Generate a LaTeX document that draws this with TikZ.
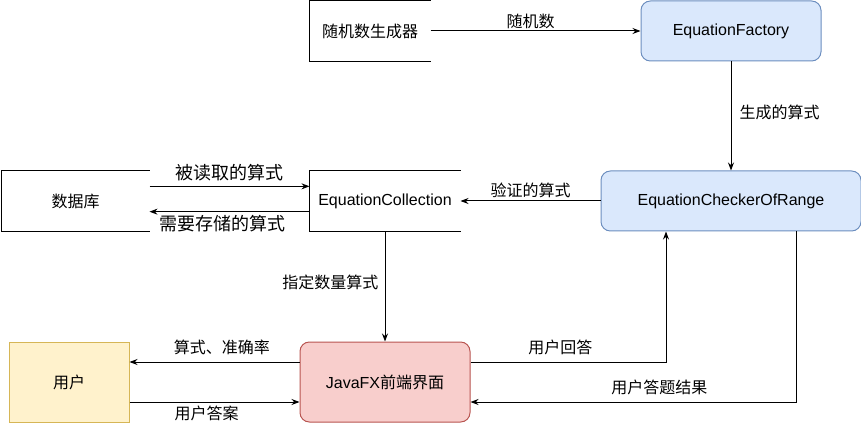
\documentclass[tikz,border=0pt]{standalone}
\usepackage{fontspec}
\setmainfont{Liberation Sans}
\newfontfamily\cjk{Noto Sans CJK SC}
\usetikzlibrary{arrows.meta, positioning}
\definecolor{classfill}{HTML}{DAE8FC}
\definecolor{classline}{HTML}{6C8EBF}
\definecolor{uifill}{HTML}{F8CECC}
\definecolor{uiline}{HTML}{B85450}
\definecolor{userfill}{HTML}{FFF2CC}
\definecolor{userline}{HTML}{D6B656}

\begin{document}
\begin{tikzpicture}[
  x=0.75pt, y=-0.75pt, line width=0.75pt, >={Stealth[length=6pt, width=4.5pt]},
  font=\fontsize{12}{14}\selectfont,
  openbox/.style={
    minimum width=112.5pt, minimum height=45pt, inner sep=0pt, align=center
  },
  classbox/.style={
    draw=classline, fill=classfill, rounded corners=7pt,
    minimum height=45pt, inner sep=0pt, align=center
  },
  uibox/.style={
    draw=uiline, fill=uifill, rounded corners=7pt,
    minimum width=127.5pt, minimum height=60pt, inner sep=0pt, align=center
  },
  userbox/.style={
    draw=userline, fill=userfill,
    minimum width=90pt, minimum height=60pt, inner sep=0pt, align=center
  },
  lbl/.style={font=\cjk\fontsize{12}{14}\selectfont, inner sep=0pt},
  biglbl/.style={lbl, font=\cjk\fontsize{13.5}{16}\selectfont},
  myarrow/.style={->, black},
]
\useasboundingbox (0,0) rectangle (861,431);
% --- Top row: generator and factory ---
\node[openbox, minimum width=90pt] (rng) at (370,31) {\cjk 随机数生成器};
\node[classbox, minimum width=135pt, right=157.5pt of rng] (factory) {EquationFactory};
% --- Middle row: checker, collection, database ---
\node[classbox, minimum width=195pt, below=81.75pt of factory] (checker) {EquationCheckerOfRange};
\node[openbox, left=105pt of checker] (coll) {EquationCollection};
\node[openbox, minimum width=110.25pt, left=120pt of coll] (db) {\cjk 数据库};
% --- Bottom row: front end and user ---
\node[uibox, below=82.5pt of coll] (fx) {JavaFX{\cjk 前端界面}};
\node[userbox, left=127.5pt of fx] (user) {\cjk 用户};
% open boxes: no right side
\foreach \n in {rng, coll, db}
  \draw (\n.north east) -- (\n.north west) -- (\n.south west) -- (\n.south east);
% --- Connectors ---
\draw[myarrow] (rng) -- node[lbl, xshift=-3.75pt, yshift=7pt] {随机数} (factory);
\draw[myarrow] (factory) -- node[lbl, xshift=36.5pt, yshift=2.5pt] {生成的算式} (checker);
\draw[myarrow] (checker) -- node[lbl, yshift=8pt] {验证的算式} (coll);
\draw[myarrow] ([yshift=11pt]db.east) -- node[biglbl, yshift=10pt] {被读取的算式} ([yshift=11pt]coll.west);
\draw[myarrow] ([yshift=-8pt]coll.west) -- node[biglbl, xshift=-5pt, yshift=-9pt] {需要存储的算式} ([yshift=-8pt]db.east);
\draw[myarrow] (coll) -- node[lbl, xshift=-41pt, yshift=3pt] {指定数量算式} (fx);
\draw[myarrow] ([yshift=15pt]fx.west) -- node[lbl, xshift=5.6pt, yshift=11pt] {算式、准确率} ([yshift=15pt]user.east);
\draw[myarrow] ([yshift=-15pt]user.east) -- node[lbl, xshift=-6pt, yshift=-8.8pt] {用户答案} ([yshift=-15pt]fx.west);
\draw[myarrow] ([yshift=15pt]fx.east) -| node[lbl, pos=0.23, yshift=11pt] {用户回答} ([xshift=-48.75pt]checker.south);
\draw[myarrow] ([xshift=48.75pt]checker.south) |- node[lbl, pos=0.71, yshift=10.6pt] {用户答题结果} ([yshift=-15pt]fx.east);
\end{tikzpicture}
\end{document}
